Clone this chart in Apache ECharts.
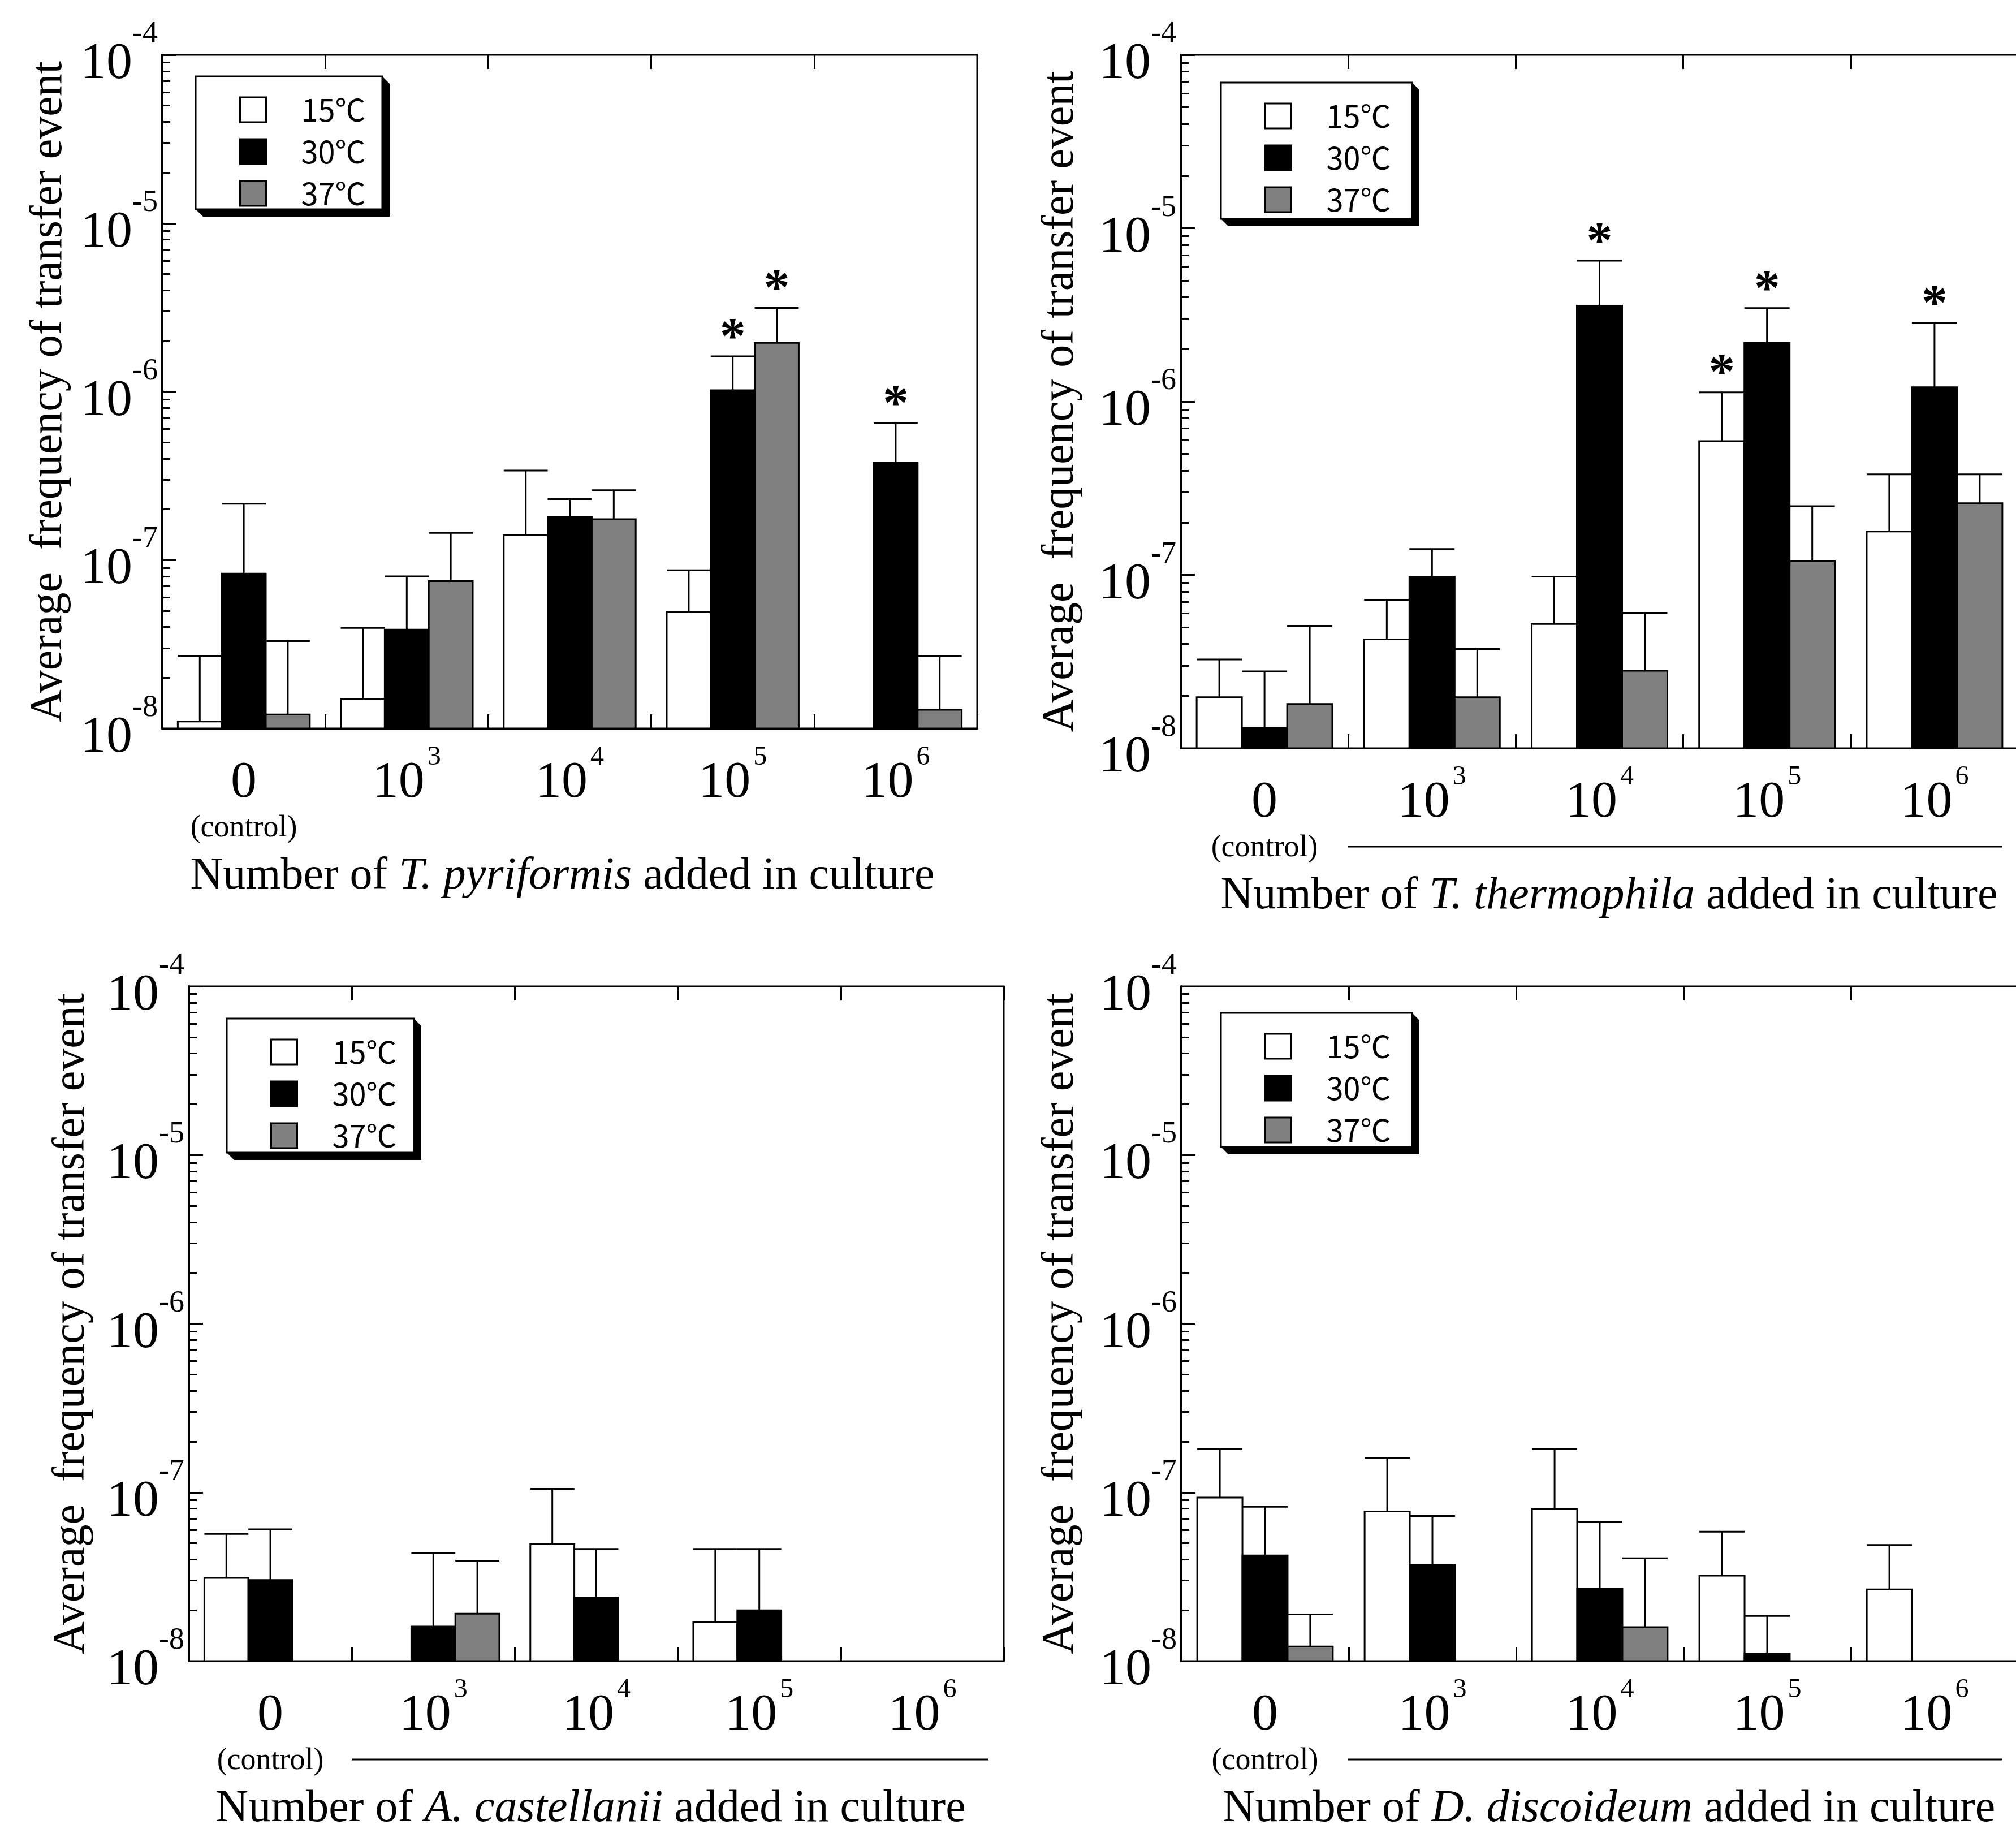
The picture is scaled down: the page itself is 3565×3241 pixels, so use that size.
<!DOCTYPE html>
<html>
<head>
<meta charset="utf-8">
<script src="https://cdn.jsdelivr.net/npm/echarts@6/dist/echarts.min.js"></script>
<style>
html, body { margin: 0; padding: 0; background: #ffffff; }
#c { width: 3565px; height: 3241px; }
</style>
</head>
<body>
<div id="c"></div>
<script>
// ---------------- DATA ----------------
const categories = ['0', '10^3', '10^4', '10^5', '10^6'];
const controlNote = '(control)';
const temps = ['15℃', '30℃', '37℃'];
const yTickExponents = [-8, -7, -6, -5, -4];
const organisms = ['T. pyriformis', 'T. thermophila', 'A. castellanii', 'D. discoideum'];
const yTitle = 'Average  frequency of transfer event';
const xTitlePrefix = 'Number of ';
const xTitleSuffix = ' added in culture';

// Panel 1: T. pyriformis
const pyr15    = [1.1e-8, 1.5e-8, 1.41e-7, 4.9e-8, null];
const pyr15Err = [2.7e-8, 3.95e-8, 3.4e-7, 8.7e-8, null];
const pyr30    = [8.3e-8, 3.86e-8, 1.81e-7, 1.02e-6, 3.78e-7];
const pyr30Err = [2.16e-7, 8.0e-8, 2.3e-7, 1.62e-6, 6.5e-7];
const pyr37    = [1.21e-8, 7.5e-8, 1.75e-7, 1.95e-6, 1.29e-8];
const pyr37Err = [3.3e-8, 1.45e-7, 2.6e-7, 3.14e-6, 2.68e-8];
const pyrSig15 = [0, 0, 0, 0, 0];
const pyrSig30 = [0, 0, 0, 1, 1];
const pyrSig37 = [0, 0, 0, 1, 0];

// Panel 2: T. thermophila
const the15    = [1.97e-8, 4.25e-8, 5.21e-8, 5.91e-7, 1.78e-7];
const the15Err = [3.25e-8, 7.19e-8, 9.77e-8, 1.13e-6, 3.8e-7];
const the30    = [1.31e-8, 9.77e-8, 3.57e-6, 2.18e-6, 1.21e-6];
const the30Err = [2.78e-8, 1.41e-7, 6.49e-6, 3.46e-6, 2.84e-6];
const the37    = [1.8e-8, 1.97e-8, 2.8e-8, 1.2e-7, 2.59e-7];
const the37Err = [5.09e-8, 3.74e-8, 6.05e-8, 2.49e-7, 3.8e-7];
const theSig15 = [0, 0, 0, 1, 0];
const theSig30 = [0, 0, 1, 1, 1];
const theSig37 = [0, 0, 0, 0, 0];

// Panel 3: A. castellanii
const cas15    = [3.11e-8, null, 4.92e-8, 1.7e-8, null];
const cas15Err = [5.67e-8, null, 1.05e-7, 4.62e-8, null];
const cas30    = [3.02e-8, 1.6e-8, 2.38e-8, 2.0e-8, null];
const cas30Err = [6.04e-8, 4.37e-8, 4.62e-8, 4.62e-8, null];
const cas37    = [null, 1.91e-8, null, null, null];
const cas37Err = [null, 3.94e-8, null, null, null];
const casSig   = [0, 0, 0, 0, 0];

// Panel 4: D. discoideum
const dis15    = [9.31e-8, 7.71e-8, 7.95e-8, 3.21e-8, 2.66e-8];
const dis15Err = [1.81e-7, 1.6e-7, 1.81e-7, 5.85e-8, 4.88e-8];
const dis30    = [4.23e-8, 3.73e-8, 2.68e-8, 1.11e-8, null];
const dis30Err = [8.21e-8, 7.24e-8, 6.69e-8, 1.85e-8, null];
const dis37    = [1.22e-8, null, 1.59e-8, null, null];
const dis37Err = [1.89e-8, null, 4.07e-8, null, null];
const disSig   = [0, 0, 0, 0, 0];

// ---------------- STYLE / LAYOUT ----------------
const Y_MIN = 1e-8, Y_MAX = 1e-4;
const GAP = 0.19;
const barColors = ['#ffffff', '#000000', '#808080'];
const SERIF = 'Liberation Serif';
const minorTicks = [];
for (let e = -8; e < -4; e++) for (let m = 2; m <= 9; m++) minorTicks.push(m * Math.pow(10, e));

const panels = [
  { left: 287,  top: 97,   width: 1441, height: 1191, legL: 346,  legT: 135,  legW: 330, legH: 235, yGap: 160, xShift: -13,
    vals: [pyr15, pyr30, pyr37], errs: [pyr15Err, pyr30Err, pyr37Err], sigs: [pyrSig15, pyrSig30, pyrSig37], line: null },
  { left: 2088, top: 97,   width: 1481, height: 1226, legL: 2159, legT: 146,  legW: 338, legH: 241, yGap: 172, xShift: 17,
    vals: [the15, the30, the37], errs: [the15Err, the30Err, the37Err], sigs: [theSig15, theSig30, theSig37], line: [2384, 3540, 1497] },
  { left: 334,  top: 1744, width: 1441, height: 1193, legL: 401,  legT: 1801, legW: 331, legH: 237, yGap: 167, xShift: -10,
    vals: [cas15, cas30, cas37], errs: [cas15Err, cas30Err, cas37Err], sigs: [casSig, casSig, casSig], line: [622, 1748, 3111] },
  { left: 2089, top: 1744, width: 1480, height: 1193, legL: 2159, legT: 1791, legW: 338, legH: 237, yGap: 173, xShift: 16,
    vals: [dis15, dis30, dis37], errs: [dis15Err, dis30Err, dis37Err], sigs: [disSig, disSig, disSig], line: [2384, 3540, 3111] }
];
const SHADOW = 13;

function makeRender(k) {
  return function (params, api) {
    const v = api.value(1);
    if (!(v > 0)) return null;
    const ci = api.value(0);
    const e = api.value(2);
    const sig = api.value(3);
    const band = api.size([1, 0])[0];
    const bw = band * (1 - GAP) / 3;
    const p = api.coord([ci, v]);
    const cx = p[0] + (k - 1) * bw;
    const yTop = p[1];
    const yBase = api.coord([ci, Y_MIN])[1];
    const children = [{
      type: 'rect',
      shape: { x: cx - bw / 2, y: yTop, width: bw, height: yBase - yTop },
      style: { fill: barColors[k], stroke: '#000', lineWidth: 3 }
    }];
    if (e > 0) {
      const yE = api.coord([ci, e])[1];
      children.push({ type: 'line', shape: { x1: cx, y1: yTop, x2: cx, y2: yE }, style: { stroke: '#000', lineWidth: 3 } });
      children.push({ type: 'line', shape: { x1: cx - bw / 2, y1: yE, x2: cx + bw / 2, y2: yE }, style: { stroke: '#000', lineWidth: 3 } });
      if (sig) {
        children.push({ type: 'text', x: cx, y: yE - 30,
          style: { text: '*', fontSize: 92, fontWeight: 'bold', fontFamily: SERIF, fill: '#000', align: 'center', verticalAlign: 'middle' } });
      }
    }
    return { type: 'group', children: children };
  };
}

const grid = [], xAxis = [], yAxis = [], series = [], legend = [], graphic = [];

panels.forEach(function (pl, g) {
  grid.push({ left: pl.left, top: pl.top, width: pl.width, height: pl.height,
    show: true, borderColor: '#000', borderWidth: 3, backgroundColor: 'transparent',
    containLabel: false, outerBoundsMode: 'none' });

  xAxis.push({
    type: 'category', gridIndex: g, position: 'bottom', data: categories, boundaryGap: true,
    axisLine: { show: true, lineStyle: { color: '#000', width: 3 } },
    axisTick: { show: true, inside: true, length: 25, interval: 0, lineStyle: { color: '#000', width: 3 } },
    splitLine: { show: false },
    axisLabel: {
      show: true, interval: 0, margin: 27, color: '#000',
      formatter: function (val) {
        if (val === '0') return '{b|0}\n{c|' + controlNote + '}';
        const parts = val.split('^');
        return '{b|' + parts[0] + '}{s|' + parts[1] + '}';
      },
      rich: {
        b: { fontFamily: SERIF, fontSize: 92, lineHeight: 116, verticalAlign: 'bottom', color: '#000', align: 'center' },
        s: { fontFamily: SERIF, fontSize: 48, lineHeight: 48, verticalAlign: 'top', color: '#000', padding: [0, 0, 0, 5], align: 'center' },
        c: { fontFamily: SERIF, fontSize: 54, lineHeight: 68, color: '#000', align: 'center' }
      }
    },
    name: '{n|' + xTitlePrefix + '}{i|' + organisms[g] + '}{n|' + xTitleSuffix + '}',
    nameLocation: 'middle', nameGap: 222, nameMoveOverlap: false,
    nameTextStyle: {
      lineHeight: 80, padding: pl.xShift > 0 ? [0, 0, 0, 2 * pl.xShift] : [0, -2 * pl.xShift, 0, 0],
      rich: {
        n: { fontFamily: SERIF, fontSize: 80, lineHeight: 80, color: '#000' },
        i: { fontFamily: SERIF, fontSize: 80, lineHeight: 80, fontStyle: 'italic', color: '#000' }
      }
    }
  });

  xAxis.push({
    type: 'category', gridIndex: g, position: 'top', data: categories, boundaryGap: true,
    axisLine: { show: false },
    axisTick: { show: true, inside: true, length: 25, interval: 0, lineStyle: { color: '#000', width: 3 } },
    axisLabel: { show: false }, splitLine: { show: false }
  });

  yAxis.push({
    type: 'log', logBase: 10, gridIndex: g, min: Y_MIN, max: Y_MAX, splitNumber: 4, position: 'left',
    axisLine: { show: true, lineStyle: { color: '#000', width: 4 } },
    axisTick: { show: true, inside: true, length: 25, lineStyle: { color: '#000', width: 3 } },
    minorTick: { show: false }, splitLine: { show: false },
    axisLabel: {
      show: true, margin: 8, color: '#000',
      formatter: function (val) {
        const ex = Math.round(Math.log10(val));
        if (yTickExponents.indexOf(ex) < 0) return '';
        return '{b|10}{s|' + ex + '}';
      },
      rich: {
        b: { fontFamily: SERIF, fontSize: 92, lineHeight: 126, verticalAlign: 'bottom', color: '#000' },
        s: { fontFamily: SERIF, fontSize: 54, lineHeight: 54, verticalAlign: 'top', color: '#000' }
      }
    },
    name: yTitle, nameLocation: 'middle', nameGap: pl.yGap, nameMoveOverlap: false,
    nameTextStyle: { fontFamily: SERIF, fontSize: 80, lineHeight: 80, color: '#000' }
  });
  yAxis.push({
    type: 'log', logBase: 10, gridIndex: g, min: Y_MIN, max: Y_MAX, splitNumber: 4, position: 'left',
    axisLine: { show: false },
    axisTick: { show: true, inside: true, length: 14, customValues: minorTicks, lineStyle: { color: '#000', width: 3 } },
    axisLabel: { show: false }, splitLine: { show: false }, minorTick: { show: false }
  });

  temps.forEach(function (t, k) {
    series.push({
      type: 'custom', name: t, xAxisIndex: 2 * g, yAxisIndex: 2 * g,
      itemStyle: { color: barColors[k], borderColor: '#000', borderWidth: 3 },
      renderItem: makeRender(k),
      data: categories.map(function (c, i) {
        return [i, pl.vals[k][i], pl.errs[k][i], pl.sigs[k][i]];
      }),
      z: 3
    });
  });

  // legend box (decoration): bevelled drop shadow + white framed box
  const bx = pl.legL, by = pl.legT, bw = pl.legW, bh = pl.legH;
  graphic.push({ type: 'polygon', silent: true, z: 1,
    shape: { points: [[bx, by + bh], [bx + bw, by + bh], [bx + bw, by], [bx + bw + SHADOW, by + SHADOW],
                      [bx + bw + SHADOW, by + bh + SHADOW], [bx + SHADOW, by + bh + SHADOW]] },
    style: { fill: '#000' } });
  graphic.push({ type: 'rect', silent: true, z: 2,
    shape: { x: bx, y: by, width: bw, height: bh },
    style: { fill: '#fff', stroke: '#000', lineWidth: 3 } });

  legend.push({
    orient: 'vertical', left: pl.legL, top: pl.legT, data: temps, icon: 'rect',
    itemWidth: 46, itemHeight: 44, itemGap: 20, padding: [32, 28, 28, 77],
    backgroundColor: 'transparent', borderWidth: 0,
    itemStyle: { borderColor: '#000', borderWidth: 3 },
    textStyle: { fontFamily: 'Noto Sans CJK JP', fontSize: 54, lineHeight: 44, color: '#000', padding: [0, 0, 0, 57] },
    selectedMode: false, z: 10
  });

  if (pl.line) {
    graphic.push({ type: 'line', shape: { x1: pl.line[0], y1: pl.line[2], x2: pl.line[1], y2: pl.line[2] },
      style: { stroke: '#000', lineWidth: 3 }, silent: true });
  }
});

const chart = echarts.init(document.getElementById('c'), null, { renderer: 'canvas', width: 3565, height: 3241 });
chart.setOption({
  animation: false,
  backgroundColor: '#ffffff',
  textStyle: { fontFamily: SERIF, color: '#000' },
  grid: grid, xAxis: xAxis, yAxis: yAxis, series: series, legend: legend, graphic: graphic,
  tooltip: { show: false }
});
</script>
</body>
</html>
